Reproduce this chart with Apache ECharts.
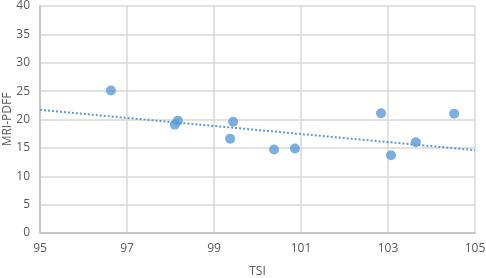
<!DOCTYPE html>
<html>
<head>
<meta charset="utf-8">
<script src="https://cdn.jsdelivr.net/npm/echarts@6/dist/echarts.min.js"></script>
<style>
  html, body { margin: 0; padding: 0; background: #fff; }
  #chart { width: 486px; height: 278px; }
</style>
</head>
<body>
<div id="chart"></div>
<script>
// TSI vs MRI-PDFF points
const tsiValues = [96.63, 98.1, 98.17, 99.37, 99.44, 100.38, 100.86, 102.84, 103.07, 103.64, 104.52];
const pdffValues = [25.1, 19.1, 19.8, 16.6, 19.6, 14.7, 14.9, 21.1, 13.7, 16.0, 21.0];

// linear trendline ends
const trendX = [95, 105];
const trendY = [21.7, 14.6];

const xTicks = [95, 97, 99, 101, 103, 105];

const chart = echarts.init(document.getElementById('chart'));
const labelColor = '#595959';
const gridColor = '#d9d9d9';

const option = {
  animation: false,
  grid: { left: 40, right: 11, top: 6, bottom: 45, outerBoundsMode: 'none', containLabel: false },
  xAxis: {
    type: 'value',
    min: 95,
    max: 105,
    interval: 2,
    name: 'TSI',
    nameLocation: 'middle',
    nameGap: 33,
    nameMoveOverlap: false,
    nameTextStyle: { color: labelColor, fontSize: 12, fontFamily: 'Open Sans' },
    axisLabel: {
      color: labelColor, fontSize: 12, fontFamily: 'Open Sans', margin: 10,
      formatter: v => (xTicks.includes(v) ? String(v) : '')
    },
    axisLine: { show: true, lineStyle: { color: '#bfbfbf', width: 1.5 } },
    axisTick: { show: false },
    splitLine: { show: true, lineStyle: { color: gridColor, width: 1.5 } }
  },
  yAxis: {
    type: 'value',
    min: 0,
    max: 40,
    interval: 5,
    name: 'MRI-PDFF',
    nameLocation: 'middle',
    nameGap: 26,
    nameRotate: 90,
    nameMoveOverlap: false,
    nameTextStyle: { color: labelColor, fontSize: 12, fontFamily: 'Open Sans' },
    axisLabel: { color: labelColor, fontSize: 12, fontFamily: 'Open Sans', margin: 10 },
    axisLine: { show: true, lineStyle: { color: '#bfbfbf', width: 1.5 } },
    axisTick: { show: false },
    splitLine: { show: true, lineStyle: { color: gridColor, width: 1.5 } }
  },
  series: [
    {
      type: 'line',
      data: trendX.map((x, i) => [x, trendY[i]]),
      symbol: 'none',
      lineStyle: { color: '#5b9bd5', width: 2, type: [2, 2] },
      z: 2
    },
    {
      type: 'scatter',
      data: tsiValues.map((x, i) => [x, pdffValues[i]]),
      symbolSize: 10,
      itemStyle: { color: '#5b9bd5' },
      z: 3
    }
  ]
};

chart.setOption(option);
</script>
</body>
</html>
